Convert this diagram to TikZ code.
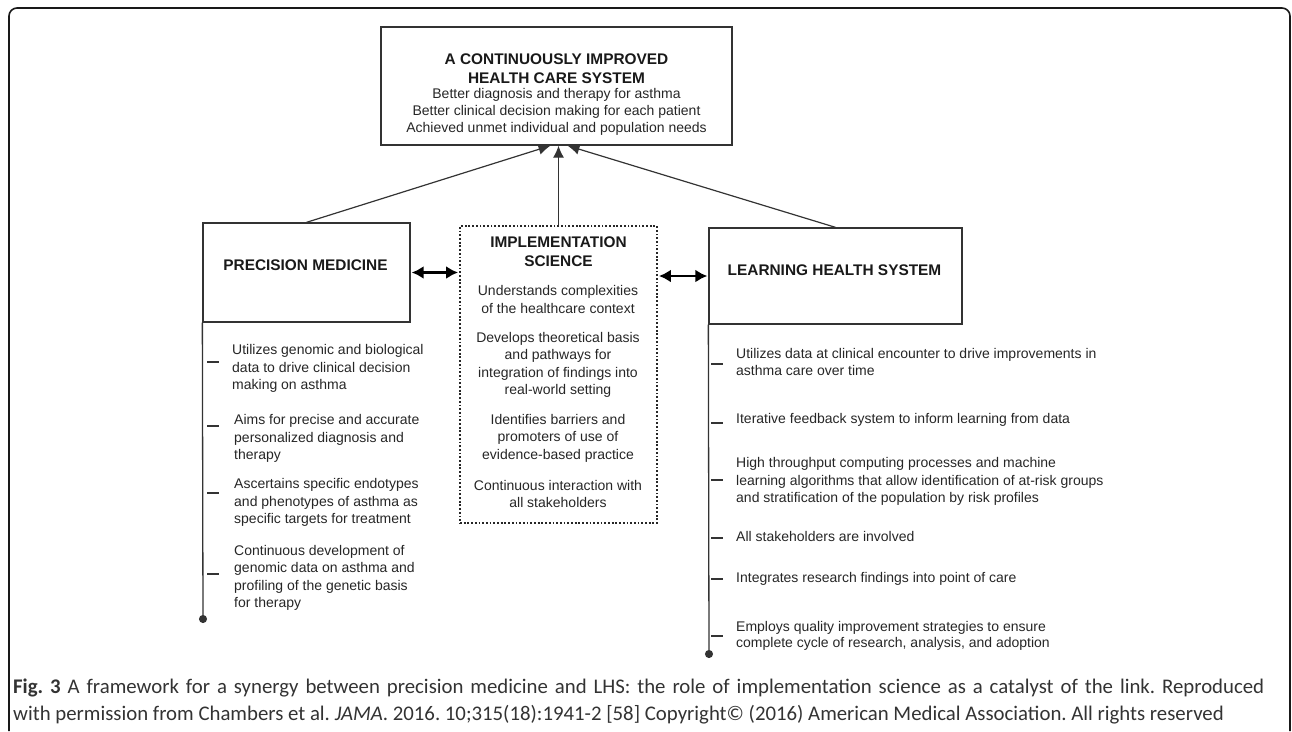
\documentclass[tikz,border=0pt]{standalone}
\usepackage{fontspec}
\setmainfont{Liberation Sans}
\newfontfamily\capfont{Carlito}
\usetikzlibrary{arrows.meta}
\frenchspacing

\begin{document}
\begin{tikzpicture}
		[x=1pt, y=-1pt,
		box/.style= {draw=black!80, line width=1.3pt, inner sep=0pt},
		dotbox/.style= {draw=black!85, line width=1.8pt, dash pattern=on 1.8pt off 1.9pt, inner sep=0pt},
		hd/.style= {font=\fontsize{15.4}{19}\selectfont\bfseries, align=center, inner sep=0pt, text=black!90},
		txt/.style= {font=\fontsize{14}{17.5}\selectfont, inner sep=0pt, text=black!85},
		uparrow/.style= {draw=black!80, line width=1.2pt, -{Latex[length=12pt,width=11pt]}},
		dblarrow/.style= {draw=black, line width=2.8pt, {Latex[length=12pt,width=13pt]}-{Latex[length=12pt,width=13pt]}, shorten <=1pt, shorten >=1pt},
		legline/.style= {draw=black!80, line width=1.3pt, -{Circle[length=8pt]}},
		tickmark/.style= {draw=black!80, line width=1.2pt},
		figcap/.style= {font=\capfont\fontsize{20.8}{27}\selectfont, inner sep=0pt, text=black!80, align=justify, text width=1251pt}]

		\useasboundingbox (0,0) rectangle (1292,731);
		\draw[black!90, line width=1.6pt, rounded corners=8pt] (9,731) -- (9,8) -- (1290,8) -- (1290,731);

		% top box
		\node[box, minimum width=351pt, minimum height=118pt] (hcs) at (556.5,86) {};
		\node[hd] (hcstitle) at (556.5,68.5) {A CONTINUOUSLY IMPROVED\\HEALTH CARE SYSTEM};
		\node[txt, align=center, font=\fontsize{14}{17}\selectfont] (hcsbody) at (556.5,111.5)
			{Better diagnosis and therapy for asthma\\Better clinical decision making for each patient\\Achieved unmet individual and population needs};

		% the three pillars
		\node[box, minimum width=207pt, minimum height=99pt] (pm) at (306.5,272.5) {};
		\node[hd] (pmtitle) at (305.5,265) {PRECISION MEDICINE};

		\node[dotbox, minimum width=197pt, minimum height=297pt] (is) at (558.5,374.5) {};
		\node[hd] (istitle) at (558.5,252) {IMPLEMENTATION\\SCIENCE};

		\node[box, minimum width=253pt, minimum height=96pt] (lhs) at (835.5,276) {};
		\node[hd] (lhstitle) at (834.5,270) {LEARNING HEALTH SYSTEM};

		\draw[uparrow] (pm.north) -- ([xshift=-6pt]hcs.south);
		\draw[uparrow] (is.north) -- (is.north |- hcs.south);
		\draw[uparrow] (lhs.north) -- ([xshift=11pt]hcs.south);

		\draw[dblarrow] (pm.east) -- (pm.east -| is.west);
		\draw[dblarrow] (lhs.west -| is.east) -- (lhs.west);

		% implementation science items
		\node[txt, align=center] (is1) at (558,299.5) {Understands complexities\\of the healthcare context};
		\node[txt, align=center] (is2) at (558,365) {Develops theoretical basis\\and pathways for\\integration of findings into\\real-world setting};
		\node[txt, align=center] (is3) at (558,438) {Identifies barriers and\\promoters of use of\\evidence-based practice};
		\node[txt, align=center] (is4) at (558,494) {Continuous interaction with\\all stakeholders};

		% precision medicine items
		\coordinate (pmend) at (203,623);
		\draw[legline] (pm.south west) -- (pmend);
		\foreach \y in {362,426,493,574}
			\draw[tickmark] (207,\y) -- (219,\y);

		\node[txt, anchor=west, align=left] (pm1) at (232,368.5) {Utilizes genomic and biological\\data to drive clinical decision\\making on asthma};
		\node[txt, anchor=west, align=left] (pm2) at (234,438.5) {Aims for precise and accurate\\personalized diagnosis and\\therapy};
		\node[txt, anchor=west, align=left] (pm3) at (234,502.5) {Ascertains specific endotypes\\and phenotypes of asthma as\\specific targets for treatment};
		\node[txt, anchor=west, align=left] (pm4) at (234,578) {Continuous development of\\genomic data on asthma and\\profiling of the genetic basis\\for therapy};

		% learning health system items
		\coordinate (lhsend) at (709,658);
		\draw[legline] (lhs.south west) -- (lhsend);
		\foreach \y in {364,423,480,538,579,636}
			\draw[tickmark] (711,\y) -- (723,\y);

		\node[txt, anchor=west, align=left, font=\fontsize{14}{17}\selectfont] (lhs1) at (736,362) {Utilizes data at clinical encounter to drive improvements in\\asthma care over time};
		\node[txt, anchor=west, align=left] (lhs2) at (736,419.5) {Iterative feedback system to inform learning from data};
		\node[txt, anchor=west, align=left, font=\fontsize{14}{17.5}\selectfont] (lhs3) at (736,481.5) {High throughput computing processes and machine\\learning algorithms that allow identification of at-risk groups\\and stratification of the population by risk profiles};
		\node[txt, anchor=west, align=left] (lhs4) at (736,536.5) {All stakeholders are involved};
		\node[txt, anchor=west, align=left] (lhs5) at (736,578.5) {Integrates research findings into point of care};
		\node[txt, anchor=west, align=left, font=\fontsize{14}{16.5}\selectfont] (lhs6) at (736,636) {Employs quality improvement strategies to ensure\\complete cycle of research, analysis, and adoption};

		% caption
		\node[figcap, anchor=west] (caption) at (13,701.5) {\textbf{Fig. 3} A framework for a synergy between precision medicine and LHS: the role of implementation science as a catalyst of the link. Reproduced\linebreak with permission from Chambers et al. \textit{JAMA}. 2016. 10;315(18):1941-2 [58] Copyright© (2016) American Medical Association. All rights reserved};

	\end{tikzpicture}
\end{document}
